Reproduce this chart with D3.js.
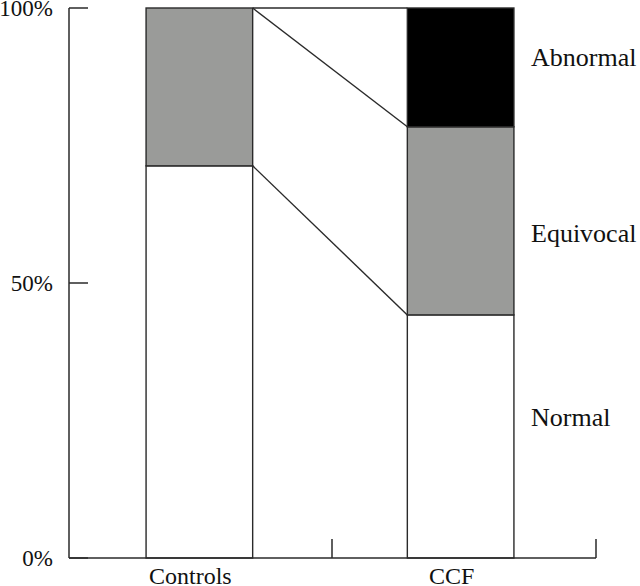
<!DOCTYPE html>
<html>
<head>
<meta charset="utf-8">
<script src="https://cdn.jsdelivr.net/npm/d3@7"></script>
<style>
  html, body { margin: 0; padding: 0; background: #fff; }
  text { font-family: "Liberation Serif", "Times New Roman", serif; fill: #111; }
</style>
</head>
<body>
<svg id="chart" width="640" height="586"></svg>
<script>
const categories = ["Controls", "CCF"];
const normal = [71.3, 44.2];
const equivocal = [28.7, 34.2];
const abnormal = [0, 21.6];
const seriesNames = ["Normal", "Equivocal", "Abnormal"];
const yTicks = [0, 50, 100];

const colors = { Normal: "#ffffff", Equivocal: "#9a9b99", Abnormal: "#000000" };
const lineColor = "#2a2a2a";

const svg = d3.select("#chart");
const y = d3.scaleLinear().domain([0, 100]).range([558, 8]);
const x = d3.scaleBand().domain(categories).range([69, 591])
  .paddingInner(0.592).paddingOuter(0.295);
const axisEnd = 596;

const rows = categories.map((c, i) => ({ cat: c, Normal: normal[i], Equivocal: equivocal[i], Abnormal: abnormal[i] }));
const stacked = d3.stack().keys(seriesNames)(rows);

// bars
stacked.forEach(layer => {
  svg.append("g").selectAll("rect").data(layer).join("rect")
    .attr("x", d => x(d.data.cat))
    .attr("y", d => y(d[1]))
    .attr("width", x.bandwidth())
    .attr("height", d => y(d[0]) - y(d[1]))
    .attr("fill", colors[layer.key])
    .attr("stroke", lineColor)
    .attr("stroke-width", 1.4);
});

// connecting lines between bars at cumulative boundaries
const x1 = x(categories[0]) + x.bandwidth();
const x2 = x(categories[1]);
stacked.forEach(layer => {
  svg.append("line")
    .attr("x1", x1).attr("y1", y(layer[0][1]))
    .attr("x2", x2).attr("y2", y(layer[1][1]))
    .attr("stroke", lineColor).attr("stroke-width", 1.4);
});

// y axis
svg.append("line").attr("x1", 69).attr("x2", 69).attr("y1", y(100)).attr("y2", y(0))
  .attr("stroke", lineColor).attr("stroke-width", 1.5);
yTicks.forEach(t => {
  svg.append("line").attr("x1", 69).attr("x2", 88).attr("y1", y(t)).attr("y2", y(t))
    .attr("stroke", lineColor).attr("stroke-width", 1.5);
  svg.append("text").attr("x", 53).attr("y", y(t)).attr("dy", "0.36em")
    .attr("text-anchor", "end").attr("font-size", 23).text(t + "%");
});

// x axis
svg.append("line").attr("x1", 69).attr("x2", axisEnd).attr("y1", y(0)).attr("y2", y(0))
  .attr("stroke", lineColor).attr("stroke-width", 1.5);
const midTick = (x1 + x2) / 2 + 2;
[midTick, axisEnd].forEach(t => {
  svg.append("line").attr("x1", t).attr("x2", t).attr("y1", y(0)).attr("y2", y(0) - 19)
    .attr("stroke", lineColor).attr("stroke-width", 1.5);
});
categories.forEach(c => {
  svg.append("text").attr("x", x(c) + x.bandwidth() / 2 - 9).attr("y", 584)
    .attr("text-anchor", "middle").attr("font-size", 24).text(c);
});

// series labels at right
const labelY = { Abnormal: 66, Equivocal: 242, Normal: 426 };
seriesNames.forEach(s => {
  svg.append("text").attr("x", 531).attr("y", labelY[s])
    .attr("font-size", 26).text(s);
});
</script>
</body>
</html>
